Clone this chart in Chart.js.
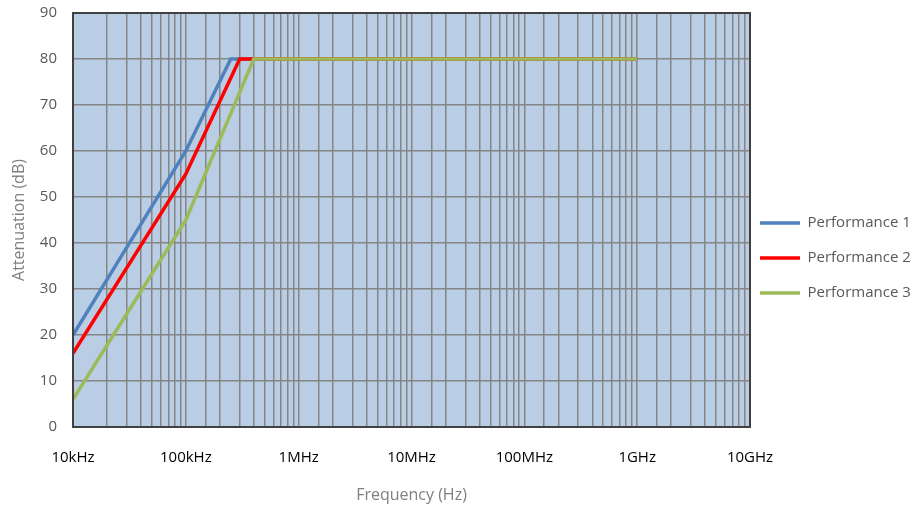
<!DOCTYPE html>
<html>
<head>
<meta charset="utf-8">
<script src="https://cdn.jsdelivr.net/npm/chart.js@4"></script>
<style>
  html, body { margin: 0; padding: 0; background: #fff; }
  #wrap { width: 917px; height: 511px; }
</style>
</head>
<body>
<div id="wrap"><canvas id="atten_chart"></canvas></div>
<script>
// frequencies (Hz) where each curve bends
const perf1Freq = [1e4, 1e5, 2.5e5, 1e9];
const perf1Db = [20, 60, 80, 80];
const perf2Freq = [1e4, 1e5, 3e5, 1e9];
const perf2Db = [16, 55, 80, 80];
const perf3Freq = [1e4, 1e5, 4e5, 1e9];
const perf3Db = [6, 45, 80, 80];

const seriesNames = ['Performance 1', 'Performance 2', 'Performance 3'];
const decadeTicks = [1e4, 1e5, 1e6, 1e7, 1e8, 1e9, 1e10];
const decadeLabels = ['10kHz', '100kHz', '1MHz', '10MHz', '100MHz', '1GHz', '10GHz'];

const toPoints = (xs, ys) => xs.map((x, i) => ({ x: x, y: ys[i] }));

const plotBg = {
  id: 'plotBg',
  afterLayout(chart) {
    // pull the legend a bit closer to the plot, like the original
    const lg = chart.legend;
    if (lg) {
      lg.left -= 10;
      lg.top -= 3; lg.bottom -= 3;
    }
  },
  beforeDraw(chart) {
    const a = chart.chartArea;
    const c = chart.ctx;
    c.save();
    c.fillStyle = '#b9cde5';
    c.fillRect(a.left, a.top, a.right - a.left, a.bottom - a.top);
    c.restore();
  },
  afterDatasetsDraw(chart) {
    const a = chart.chartArea;
    const c = chart.ctx;
    c.save();
    c.strokeStyle = '#404040';
    c.lineWidth = 2;
    c.strokeRect(a.left, a.top, a.right - a.left, a.bottom - a.top);
    c.restore();
  }
};

const ctx = document.getElementById('atten_chart');

new Chart(ctx, {
  type: 'line',
  data: {
    datasets: [
      { label: seriesNames[0], data: toPoints(perf1Freq, perf1Db), borderColor: '#4f81bd', backgroundColor: '#4f81bd', borderWidth: 3.5, pointRadius: 0, order: 3 },
      { label: seriesNames[1], data: toPoints(perf2Freq, perf2Db), borderColor: '#ff0000', backgroundColor: '#ff0000', borderWidth: 3.5, pointRadius: 0, order: 2 },
      { label: seriesNames[2], data: toPoints(perf3Freq, perf3Db), borderColor: '#9bbb59', backgroundColor: '#9bbb59', borderWidth: 3.5, pointRadius: 0, order: 1 }
    ]
  },
  options: {
    responsive: true,
    maintainAspectRatio: false,
    animation: false,
    layout: { padding: { top: 13, bottom: 2, left: 6, right: 0 } },
    plugins: {
      legend: {
        position: 'right',
        maxWidth: 167,
        labels: {
          usePointStyle: true,
          pointStyle: 'line',
          pointStyleWidth: 40,
          boxHeight: 3,
          padding: 20,
          color: '#595959',
          font: { family: 'Open Sans', size: 15 },
          sort: (a, b) => a.datasetIndex - b.datasetIndex
        }
      },
      tooltip: { enabled: false }
    },
    scales: {
      x: {
        type: 'logarithmic',
        min: 1e4,
        max: 1e10,
        afterFit: (s) => { s.height = 82; s.paddingLeft = 0; s.paddingRight = 0; },
        grid: { color: '#858585', lineWidth: 1.5, drawTicks: false },
        border: { display: false },
        ticks: {
          autoSkip: false,
          maxRotation: 0,
          padding: 22,
          color: '#000000',
          font: { family: 'Open Sans', size: 15 },
          callback: (v) => {
            const i = decadeTicks.findIndex(d => Math.abs(d - v) / d < 1e-6);
            return i >= 0 ? decadeLabels[i] : '';
          }
        },
        title: {
          display: true,
          text: 'Frequency (Hz)',
          color: '#7f7f7f',
          font: { family: 'Open Sans', size: 16 }
        }
      },
      y: {
        min: 0,
        max: 90,
        afterFit: (s) => { s.width = 67; s.paddingTop = 0; s.paddingBottom = 0; },
        grid: { color: '#858585', lineWidth: 1.5, drawTicks: false },
        border: { display: false },
        ticks: {
          stepSize: 10,
          padding: 16,
          color: '#595959',
          font: { family: 'Open Sans', size: 15 }
        },
        title: {
          display: true,
          text: 'Attenuation (dB)',
          color: '#7f7f7f',
          font: { family: 'Open Sans', size: 16 }
        }
      }
    }
  },
  plugins: [plotBg]
});
</script>
</body>
</html>
